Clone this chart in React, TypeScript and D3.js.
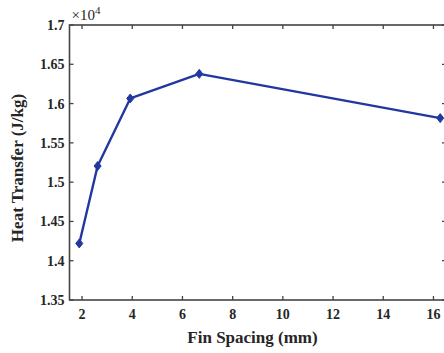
import React from "react";
import * as d3 from "d3";

const finSpacing = [1.89, 2.62, 3.92, 6.67, 16.27];
const heatTransfer = [1.422, 1.5205, 1.6065, 1.6378, 1.5815]; // ×10^4 J/kg
const xTicks = [2, 4, 6, 8, 10, 12, 14, 16];
const yTicks = [1.35, 1.4, 1.45, 1.5, 1.55, 1.6, 1.65, 1.7];

const W = 444;
const H = 353;
const left = 69.5;
const right = 446;
const top = 25;
const bottom = 300;

const font = "'Liberation Serif', 'Times New Roman', serif";
const axisColor = "#444";
const textColor = "#262626";
const lineColor = "#2337a0";

export default function App() {
  const x = d3.scaleLinear().domain([1.5, 16.5]).range([left, right]);
  const y = d3.scaleLinear().domain([1.35, 1.7]).range([bottom, top]);
  const pts = finSpacing.map((v, i) => [x(v), y(heatTransfer[i])] as [number, number]);
  const path = d3.line()(pts) || "";
  const tl = 4;

  return (
    <svg
      width={W}
      height={H}
      style={{ position: "absolute", left: 0, top: 0, background: "#fff" }}
      fontFamily={font}
    >
      <rect x={0} y={0} width={W} height={H} fill="#fff" />
      {/* frame */}
      <rect
        x={left}
        y={top}
        width={right - left}
        height={bottom - top}
        fill="none"
        stroke={axisColor}
        strokeWidth={1.6}
      />
      {/* x ticks, inward on top and bottom */}
      {xTicks.map((t) => (
        <g key={"x" + t}>
          <line x1={x(t)} x2={x(t)} y1={bottom} y2={bottom - tl} stroke={axisColor} strokeWidth={1.3} />
          <line x1={x(t)} x2={x(t)} y1={top} y2={top + tl} stroke={axisColor} strokeWidth={1.3} />
          <text
            x={x(t)}
            y={bottom + 19}
            textAnchor="middle"
            fontSize={14}
            fontWeight="bold"
            fill={textColor}
          >
            {t}
          </text>
        </g>
      ))}
      {/* y ticks, inward on left and right */}
      {yTicks.map((t) => (
        <g key={"y" + t}>
          <line x1={left} x2={left + tl} y1={y(t)} y2={y(t)} stroke={axisColor} strokeWidth={1.3} />
          <line x1={right} x2={right - tl} y1={y(t)} y2={y(t)} stroke={axisColor} strokeWidth={1.3} />
          <text
            x={left - 5}
            y={y(t) + 5}
            textAnchor="end"
            fontSize={14}
            fontWeight="bold"
            fill={textColor}
          >
            {d3.format("")(+t.toFixed(2))}
          </text>
        </g>
      ))}
      {/* exponent */}
      <text x={left + 2} y={top - 5} fontSize={15} fill={textColor}>
        ×10
        <tspan dy={-6} fontSize={11}>4</tspan>
      </text>
      {/* series */}
      <path d={path} fill="none" stroke={lineColor} strokeWidth={2.4} strokeLinejoin="round" />
      {pts.map(([px, py], i) => (
        <path
          key={i}
          d={`M${px},${py - 4.5}L${px + 3.5},${py}L${px},${py + 4.5}L${px - 3.5},${py}Z`}
          fill={lineColor}
          stroke={lineColor}
          strokeWidth={1}
        />
      ))}
      {/* axis titles */}
      <text
        x={252.5}
        y={bottom + 43}
        textAnchor="middle"
        fontSize={17}
        fontWeight="bold"
        fill={textColor}
      >
        Fin Spacing (mm)
      </text>
      <text
        transform={`translate(23,168) rotate(-90)`}
        textAnchor="middle"
        fontSize={17}
        fontWeight="bold"
        fill={textColor}
      >
        Heat Transfer (J/kg)
      </text>
    </svg>
  );
}
